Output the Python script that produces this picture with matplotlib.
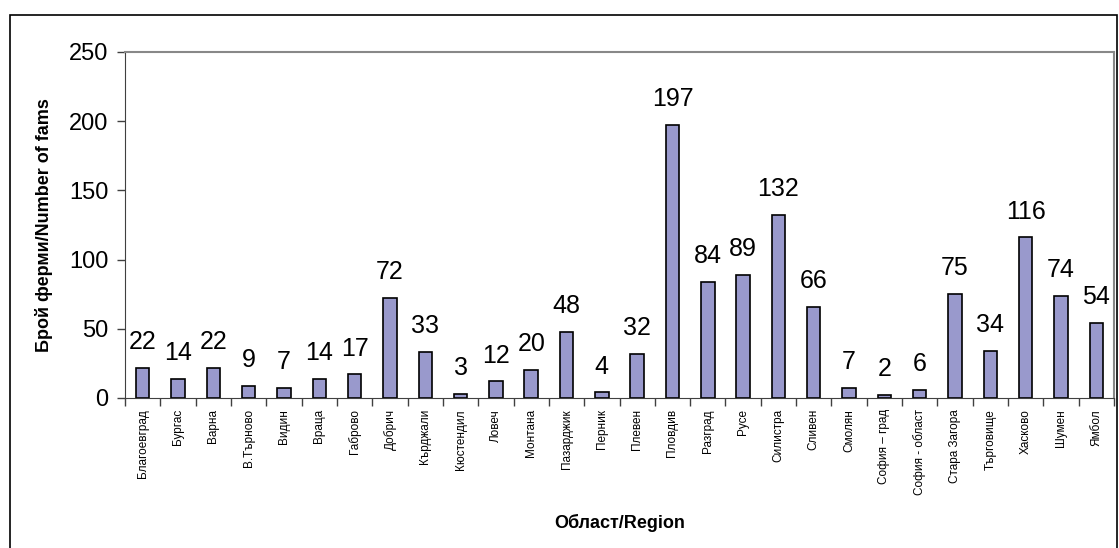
import matplotlib.pyplot as plt
import matplotlib.patches as patches
import numpy as np

plt.rcParams['font.family'] = ['Liberation Sans', 'DejaVu Sans']

regions = ['Благоевград', 'Бургас', 'Варна', 'В.Търново', 'Видин', 'Враца', 'Габрово',
           'Добрич', 'Кърджали', 'Кюстендил', 'Ловеч', 'Монтана', 'Пазарджик', 'Перник',
           'Плевен', 'Пловдив', 'Разград', 'Русе', 'Силистра', 'Сливен', 'Смолян',
           'София – град', 'София - област', 'Стара Загора', 'Търговище', 'Хасково',
           'Шумен', 'Ямбол']
farms = [22, 14, 22, 9, 7, 14, 17, 72, 33, 3, 12, 20, 48, 4, 32, 197, 84, 89, 132,
         66, 7, 2, 6, 75, 34, 116, 74, 54]

fig = plt.figure(figsize=(11.19, 5.48), dpi=100)
ax = fig.add_axes([125/1119, 1-398/548, (1114-125)/1119, (398-52)/548])

x = np.arange(len(regions))
bars = ax.bar(x, farms, width=0.38, color='#9999cc', edgecolor='black', linewidth=1.2)

for xi, v in zip(x, farms):
    ax.annotate(str(v), (xi, v), xytext=(0, 10), textcoords='offset points',
                ha='center', va='bottom', fontsize=18)

ax.set_xlim(-0.5, len(regions) - 0.5)
ax.set_ylim(0, 250)
ax.set_yticks([0, 50, 100, 150, 200, 250])
ax.tick_params(axis='y', labelsize=17, direction='out', length=6, width=1, color='#404040', pad=6)

ax.set_xticks(x)
ax.set_xticklabels(regions, rotation=90, fontsize=8.5)
ax.tick_params(axis='x', length=0, pad=8)
ax.set_xticks(np.arange(-0.5, len(regions)), minor=True)
ax.tick_params(axis='x', which='minor', direction='out', length=6, width=1, color='#404040')

for side in ['top', 'right']:
    ax.spines[side].set_color('#888888')
    ax.spines[side].set_linewidth(1.5)
ax.spines['left'].set_color('#404040')
ax.spines['bottom'].set_color('#404040')

ax.set_ylabel('Брой ферми/Number of fams', fontsize=13, fontweight='bold')
ax.yaxis.set_label_coords(-72/989, 0.5)
ax.set_xlabel('Област/Region', fontsize=13, fontweight='bold')
ax.xaxis.set_label_coords(0.5, -(514-398)/346)

border = patches.Rectangle((10/1119, -0.05), (1117-10)/1119, 1.05-15/548,
                           transform=fig.transFigure, fill=False, edgecolor='black',
                           linewidth=1.2)
fig.patches.append(border)

fig.savefig('out.png', dpi=100)
